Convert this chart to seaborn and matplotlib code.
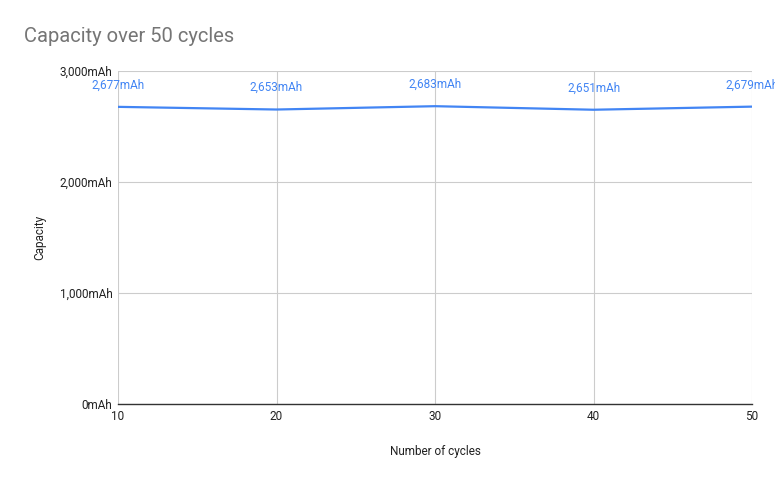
import matplotlib
matplotlib.use('Agg')
import matplotlib.pyplot as plt
import seaborn as sns
import pandas as pd
from matplotlib.ticker import FuncFormatter

cycles = [10, 20, 30, 40, 50]
capacity = [2677, 2653, 2683, 2651, 2679]
y_ticks = [0, 1000, 2000, 3000]

df = pd.DataFrame({'cycles': cycles, 'capacity': capacity})

sns.set_theme(style='white')
plt.rcParams['font.family'] = ['Roboto', 'DejaVu Sans']

blue = '#4285f4'
grid = '#cccccc'

fig = plt.figure(figsize=(7.75, 4.8), dpi=100)
ax = fig.add_axes([118 / 775, 76 / 480, (752 - 118) / 775, (404 - 71) / 480])

sns.lineplot(data=df, x='cycles', y='capacity', color=blue, linewidth=1.6, ax=ax)

# value labels above each point; the last one runs off the edge as in the original
for x, y in zip(cycles, capacity):
    ax.annotate('{:,}mAh'.format(y), (x, y), xytext=(0, 11), textcoords='offset points',
                ha='center', va='bottom', color=blue, fontsize=8.5, annotation_clip=False)

ax.set_xlim(10, 50)
ax.set_ylim(0, 3000)
ax.set_xticks(cycles)
ax.set_yticks(y_ticks)
ax.yaxis.set_major_formatter(FuncFormatter(lambda v, p: '{:,}mAh'.format(int(v))))

ax.grid(True, color=grid, linewidth=0.8)
ax.set_axisbelow(True)
for s in ['top', 'right', 'left']:
    ax.spines[s].set_visible(False)
ax.spines['bottom'].set_color('#333333')
ax.spines['bottom'].set_linewidth(1)

ax.tick_params(axis='both', length=0, labelsize=8.5, colors='#222222', pad=4)
ax.set_xlabel('Number of cycles', fontsize=8.5, color='#222222', labelpad=16)
ax.set_ylabel('Capacity', fontsize=8.5, color='#222222', labelpad=10)

fig.text(24 / 775, 1 - 36 / 480, 'Capacity over 50 cycles', fontsize=14.5,
         color='#757575', va='center', ha='left')

fig.savefig('out.png', dpi=100, facecolor='white')
